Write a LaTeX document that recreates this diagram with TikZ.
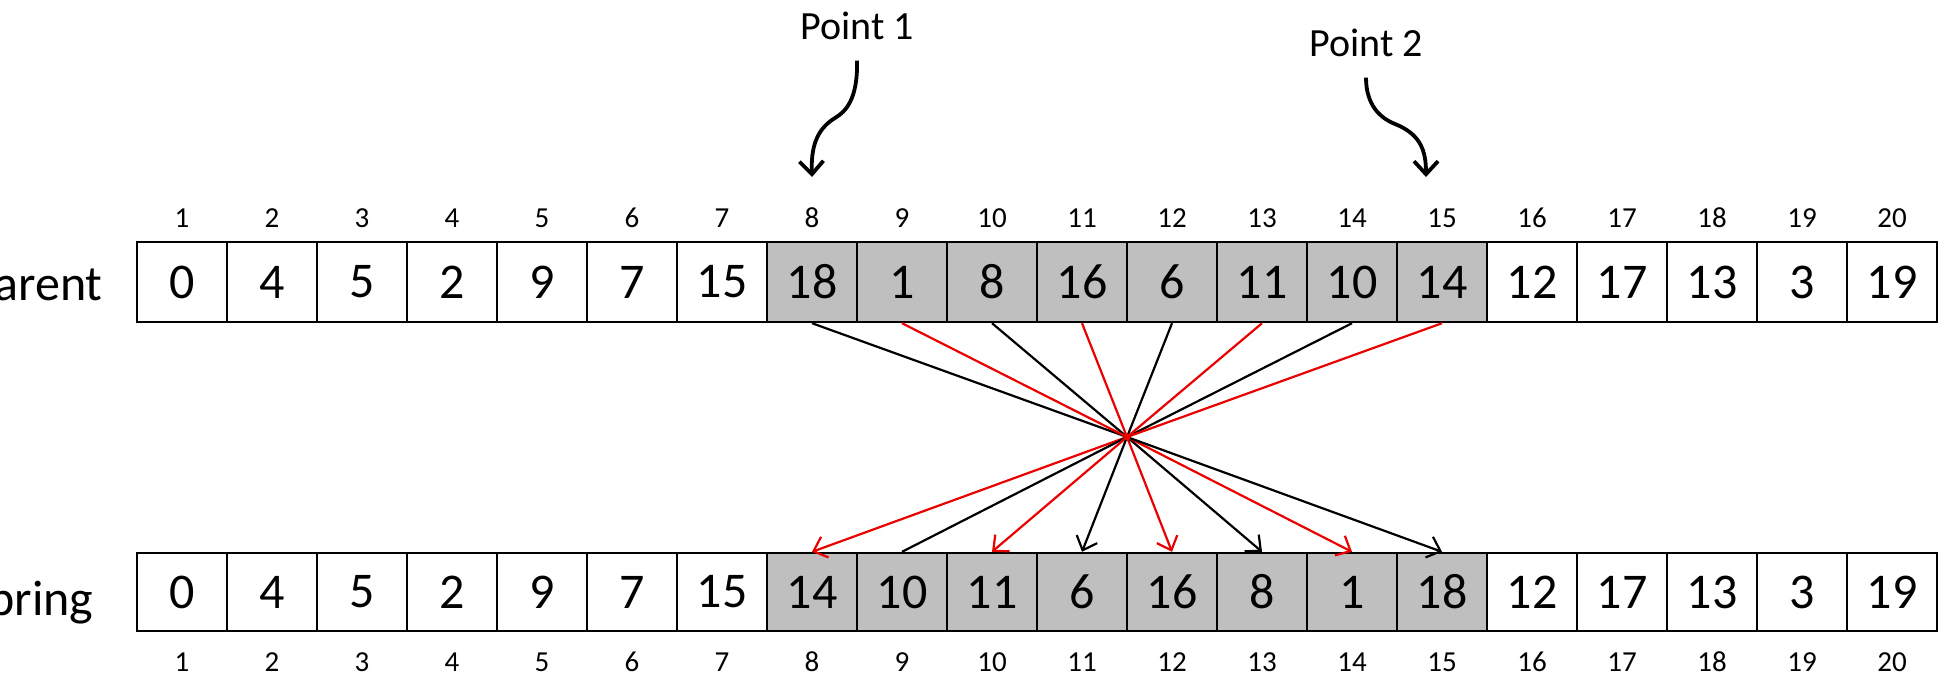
\documentclass[tikz,border=0pt]{standalone}
\usepackage{fontspec}
\setmainfont{Carlito}
\usetikzlibrary{arrows.meta}
\definecolor{cellgray}{RGB}{191,191,191}
\definecolor{linkred}{RGB}{235,0,0}
\tikzset{
  cell/.style={draw=black, line width=1.2pt, minimum width=45pt, minimum height=40pt,
               inner sep=0pt, font=\fontsize{25}{30}\selectfont},
  idx/.style={inner sep=0pt, font=\fontsize{14.5}{17}\selectfont},
  rowlabel/.style={anchor=base east, inner sep=0pt, font=\fontsize{25}{30}\selectfont},
  blackline/.style={draw=black, line width=1.1pt},
  redline/.style={draw=linkred, line width=1.1pt},
  tip/.style={-{Straight Barb[length=6pt,width=11pt]}},
  ptlabel/.style={anchor=base, inner xsep=0pt, inner ysep=10.5pt, font=\fontsize{20}{24}\selectfont},
  ptarrow/.style={line width=1.9pt, -{Straight Barb[length=6.5pt,width=12pt]}},
}
\begin{document}
\begin{tikzpicture}[x=0.5pt,y=-0.5pt]
\useasboundingbox (0,0) rectangle (1946,681);
\clip (0,0) rectangle (1946,681);

% row captions (partly cut off by the left margin)
\node[rowlabel] (parent) at (103,300) {Parent};
\node[rowlabel] (offspring) at (94,615) {Offspring};

% parent chromosome with positions above
\foreach \v [count=\i] in {0,4,5,2,9,7,15,18,1,8,16,6,11,10,14,12,17,13,3,19}{
  \ifnum\i>7 \ifnum\i<16 \def\cf{cellgray}\else\def\cf{white}\fi\else\def\cf{white}\fi
  \node[cell, fill=\cf] (p\i) at ({92+90*\i},282) {\v};
  \node[idx] (ip\i) at ({92+90*\i},218) {\i};
}

% offspring chromosome with positions below
\foreach \v [count=\i] in {0,4,5,2,9,7,15,14,10,11,6,16,8,1,18,12,17,13,3,19}{
  \ifnum\i>7 \ifnum\i<16 \def\cf{cellgray}\else\def\cf{white}\fi\else\def\cf{white}\fi
  \node[cell, fill=\cf, minimum height=39pt] (o\i) at ({92+90*\i},592) {\v};
  \node[idx] (io\i) at ({92+90*\i},662) {\i};
}

% crossover points
\node[ptlabel] (pt1) at (857,39) {Point 1};
\node[ptlabel] (pt2) at (1366,56) {Point 2};
\coordinate (t1) at (812,177);
\coordinate (t2) at (1426,177);
\draw[ptarrow] (pt1.south) .. controls (858,100) and (845,112) .. (835,118)
                .. controls (815,130) and (811,150) .. (t1);
\draw[ptarrow] (pt2.south) .. controls (1366,105) and (1380,118) .. (1395,124)
                .. controls (1420,134) and (1426,150) .. (t2);

% segment reversal through a common point
\coordinate (c) at (1127,437);
\foreach \i in {8,10,12,14} \draw[blackline] (p\i.south) -- (c);
\foreach \i in {9,11,13,15} \draw[redline] (p\i.south) -- (c);
\draw[redline, tip] (c) -- (o8.north);
\draw[blackline] (c) -- (o9.north);
\draw[redline, tip] (c) -- (o10.north);
\draw[blackline, tip] (c) -- (o11.north);
\draw[redline, tip] (c) -- (o12.north);
\draw[blackline, tip] (c) -- (o13.north);
\draw[redline, tip] (c) -- (o14.north);
\draw[blackline, tip] (c) -- (o15.north);
\fill[linkred] (c) circle (1.8pt);
\end{tikzpicture}
\end{document}
